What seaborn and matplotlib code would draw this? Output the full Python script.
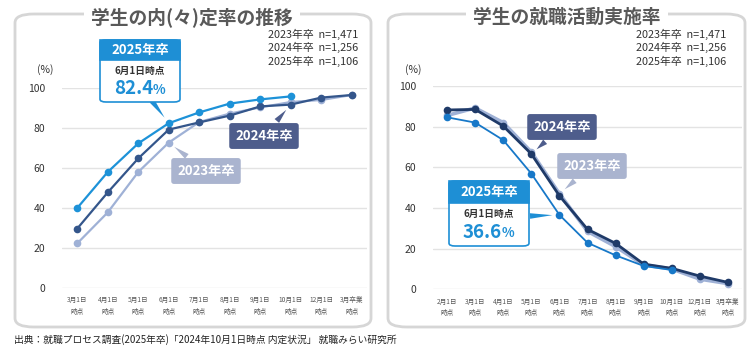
import numpy as np
import pandas as pd
import matplotlib
matplotlib.use('Agg')
import matplotlib.pyplot as plt
import seaborn as sns
from matplotlib.patches import FancyBboxPatch, Rectangle

# --- data ---------------------------------------------------------------
naitei_labels = ['3月1日', '4月1日', '5月1日', '6月1日', '7月1日', '8月1日',
                 '9月1日', '10月1日', '12月1日', '3月卒業']
naitei_2023 = [22.3, 37.8, 58.0, 72.7, 83.0, 87.2, 90.3, 93.0, 94.0, 96.5]
naitei_2024 = [29.7, 47.8, 64.8, 79.2, 82.8, 86.2, 90.8, 91.7, 95.2, 96.5]
naitei_2025 = [40.0, 58.0, 72.3, 82.4, 87.8, 92.2, 94.3, 95.8, np.nan, np.nan]

katsudo_labels = ['2月1日', '3月1日', '4月1日', '5月1日', '6月1日', '7月1日',
                  '8月1日', '9月1日', '10月1日', '12月1日', '3月卒業']
katsudo_2023 = [85.5, 89.2, 82.0, 67.5, 47.0, 28.5, 21.0, 12.0, 10.0, 5.0, 2.8]
katsudo_2024 = [88.2, 88.5, 80.3, 66.6, 46.0, 29.5, 22.6, 12.4, 10.3, 6.5, 3.4]
katsudo_2025 = [84.6, 82.0, 73.4, 56.9, 36.6, 22.9, 16.7, 11.5, 9.5, np.nan, np.nan]

sample_sizes = ['2023年卒  n=1,471', '2024年卒  n=1,256', '2025年卒  n=1,106']
source_note = '出典：就職プロセス調査(2025年卒)「2024年10月1日時点 内定状況」 就職みらい研究所'

sns.set_style('white')
plt.rcParams['font.family'] = ['Noto Sans CJK JP', 'DejaVu Sans']

W, H = 750, 350
fig = plt.figure(figsize=(7.5, 3.5), dpi=100)


def fx(x):
    return x / W


def fy(y):
    return 1 - y / H


GREY_TXT = '#595959'
C23, C24, C25 = '#9fb1d6', '#34568b', '#1d92d8'
C24R, C25R = '#1f3a68', '#1778c8'
BOX24, BOX23 = '#4e5d8c', '#aab4cf'


def frame(x0, x1, title, tcx):
    fig.patches.append(FancyBboxPatch((fx(x0), fy(327)), fx(x1 - x0), (327 - 14) / H,
                                      boxstyle='round,pad=0,rounding_size=0.025',
                                      transform=fig.transFigure, fc='white',
                                      ec='#d6d6d6', lw=2, zorder=-5))
    fig.text(fx(tcx), fy(17), title, ha='center', va='center', fontsize=13.5,
             fontweight='bold', color=GREY_TXT, zorder=-4,
             bbox=dict(fc='white', ec='none', pad=5))


frame(15, 371, '学生の内(々)定率の推移', 192)
frame(388, 745, '学生の就職活動実施率', 567)


def make_ax(rect, labels, series):
    ax = fig.add_axes(rect)
    ax.set_zorder(1)
    ax.set_facecolor('none')
    idx = np.arange(len(labels))
    for vals, col, lw in series:
        df = pd.DataFrame({'idx': idx, 'val': vals}).dropna()
        sns.lineplot(data=df, x='idx', y='val', color=col, linewidth=lw,
                     marker='o', markersize=5.5, markeredgewidth=0, ax=ax)
    ax.set_xlim(-0.5, len(labels) - 0.5)
    ax.set_ylim(0, 100)
    ax.set_yticks([0, 20, 40, 60, 80, 100])
    ax.set_xticks(idx)
    ax.set_xticklabels([l + '\n時点' for l in labels], fontsize=4.8,
                       color=GREY_TXT, linespacing=1.6)
    ax.tick_params(axis='x', length=0, pad=6)
    ax.tick_params(axis='y', length=0, pad=12, labelsize=7.5, labelcolor='#333333')
    ax.grid(axis='y', color='#e3e3e3', lw=1)
    ax.grid(axis='x', visible=False)
    ax.set_axisbelow(True)
    for s in ax.spines.values():
        s.set_visible(False)
    ax.set_xlabel('')
    ax.set_ylabel('')
    return ax


ax1 = make_ax([fx(62), fy(288), fx(367 - 62), 200 / H], naitei_labels,
              [(naitei_2023, C23, 1.6), (naitei_2024, C24, 1.6), (naitei_2025, C25, 1.6)])
ax2 = make_ax([fx(433), fy(289.3), fx(742 - 433), 203.3 / H], katsudo_labels,
              [(katsudo_2023, C23, 2.6), (katsudo_2024, C24R, 2.0), (katsudo_2025, C25R, 1.3)])

# (%) labels and sample sizes
for x in (45, 413):
    fig.text(fx(x), fy(70), '(%)', ha='center', va='center', fontsize=7.5, color='#333333')
for xr in (358, 726):
    for i, s in enumerate(sample_sizes):
        fig.text(fx(xr), fy(34 + i * 13.5), s, ha='right', va='center', fontsize=7.8,
                 color='#333333')

fig.text(fx(14), fy(340), source_note, ha='left', va='center', fontsize=7, color='#222222')


# simple label boxes with wedge pointers to data points
def tag(ax, text, xy, cx, cy, fc):
    ax.annotate(text, xy=xy, xycoords='data', xytext=(fx(cx), fy(cy)),
                textcoords='figure fraction', ha='center', va='center',
                fontsize=9.5, fontweight='bold', color='white', zorder=10,
                bbox=dict(boxstyle='round,pad=0.45,rounding_size=0.2', fc=fc, ec='none'),
                arrowprops=dict(arrowstyle='wedge,tail_width=0.45,shrink_factor=0.5',
                                fc=fc, ec='none', shrinkB=5))


tag(ax1, '2024年卒', (7, naitei_2024[7]), 264, 136, BOX24)
tag(ax1, '2023年卒', (3, naitei_2023[3]), 206, 171, BOX23)
tag(ax2, '2024年卒', (3, katsudo_2024[3]), 562, 127, BOX24)
tag(ax2, '2023年卒', (4, katsudo_2023[4]), 592, 166, BOX23)


# 2025 callouts
def callout(ax, xy, x0, x1, y0, ymid, y1, tail, value):
    fig.patches.append(FancyBboxPatch((fx(x0), fy(y1)), fx(x1 - x0), (y1 - y0) / H,
                                      boxstyle='round,pad=0,rounding_size=0.008',
                                      transform=fig.transFigure, fc='white',
                                      ec='#1e8fd5', lw=1.2, zorder=5))
    fig.patches.append(Rectangle((fx(x0), fy(ymid)), fx(x1 - x0), (ymid - y0) / H,
                                 transform=fig.transFigure, fc='#1e8fd5', ec='#1e8fd5',
                                 lw=1.2, zorder=6))
    cx = (x0 + x1) / 2
    fig.text(fx(cx), fy((y0 + ymid) / 2), '2025年卒', ha='center', va='center',
             fontsize=9.5, fontweight='bold', color='white', zorder=7)
    fig.text(fx(cx), fy(ymid + 11), '6月1日時点', ha='center', va='center',
             fontsize=7, fontweight='bold', color='#333333', zorder=7)
    fig.text(fx(cx + 13), fy(ymid + 29), value, ha='right', va='center',
             fontsize=13.5, fontweight='bold', color='#1e8fd5', zorder=7)
    fig.text(fx(cx + 13), fy(ymid + 30), '%', ha='left', va='center',
             fontsize=9.5, fontweight='bold', color='#1e8fd5', zorder=7)
    ax.annotate('', xy=xy, xycoords='data', xytext=(fx(tail[0]), fy(tail[1])),
                textcoords='figure fraction', zorder=10,
                arrowprops=dict(arrowstyle='wedge,tail_width=0.4,shrink_factor=0.5',
                                fc='#1e8fd5', ec='none', shrinkA=0, shrinkB=5))


callout(ax1, (3, naitei_2025[3]), 100, 180, 40, 60, 102, (152, 101), '82.4')
callout(ax2, (4, katsudo_2025[4]), 449, 529, 181, 203, 246, (530, 216), '36.6')

fig.savefig('out.png', dpi=100)
